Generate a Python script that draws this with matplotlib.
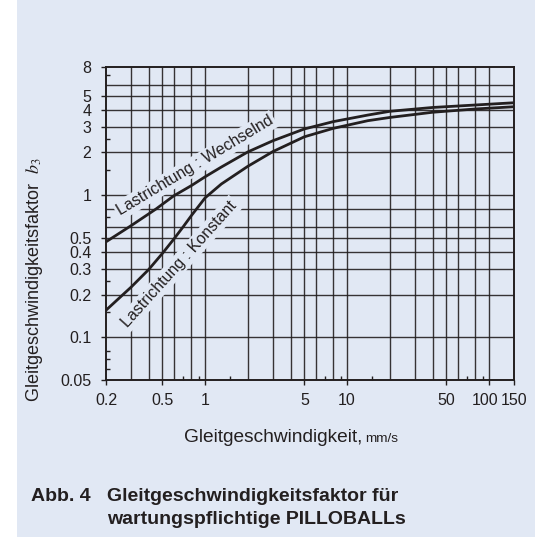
"""
Gleitgeschwindigkeitsfaktor b3 für wartungspflichtige PILLOBALLs.

Log-log chart of the sliding speed factor over the sliding speed,
for alternating and constant load direction.
"""

import matplotlib.pyplot as plt
from matplotlib.patches import Rectangle
from matplotlib.transforms import ScaledTranslation

plt.rcParams["font.family"] = ["Liberation Sans", "DejaVu Sans"]
plt.rcParams["mathtext.fontset"] = "stix"

PANEL = "#e1e8f4"
INK = "#231f20"

# speed in mm/s, factor b3
speed_wechselnd = [0.2, 0.3, 0.45, 0.6, 0.8, 1.0, 1.3, 2.0, 3.0, 5.0, 8.0, 14.0, 20.0, 40.0, 80.0, 150.0]
b3_wechselnd = [0.47, 0.61, 0.80, 0.99, 1.17, 1.35, 1.58, 2.02, 2.42, 2.93, 3.30, 3.67, 3.90, 4.15, 4.32, 4.48]

speed_konstant = [0.2, 0.3, 0.4, 0.5, 0.6, 0.7, 0.8, 1.0, 1.3, 2.0, 3.0, 5.0, 8.0, 14.0, 20.0, 40.0, 80.0, 150.0]
b3_konstant = [0.155, 0.225, 0.30, 0.39, 0.49, 0.60, 0.72, 0.96, 1.20, 1.60, 2.03, 2.58, 2.96, 3.35, 3.53, 3.84, 4.05, 4.20]

x_ticks = [0.2, 0.5, 1, 5, 10, 50, 100, 150]
x_tick_labels = ["0.2", "0.5", "1", "5", "10", "50", "100", "150"]
x_minor = [0.7, 0.9, 1.5, 7, 9, 15, 70, 90]
x_grid = [0.3, 0.4, 0.5, 0.6, 0.8, 1, 2, 3, 4, 5, 6, 8, 10, 20, 30, 40, 50, 60, 80, 100]

y_ticks = [0.05, 0.1, 0.2, 0.3, 0.4, 0.5, 1, 2, 3, 4, 5, 8]
y_tick_labels = ["0.05", "0.1", "0.2", "0.3", "0.4", "0.5", "1", "2", "3", "4", "5", "8"]
y_minor = [0.06, 0.07, 0.08, 0.15, 0.25, 0.7, 1.5, 2.5, 7]
y_grid = [0.1, 0.2, 0.3, 0.4, 0.5, 0.6, 0.8, 1, 2, 3, 4, 5, 6]


def main() -> None:
    fig = plt.figure(figsize=(5.49, 5.45), dpi=100, facecolor="white")
    fig.patches.append(
        Rectangle((17 / 549, 8 / 545), 518 / 549, 537 / 545,
                  transform=fig.transFigure, facecolor=PANEL,
                  edgecolor="none", zorder=-10)
    )

    ax = fig.add_axes([106 / 549, 1 - 380 / 545, 408 / 549, 313 / 545])
    ax.set_facecolor("none")
    ax.set_xscale("log")
    ax.set_yscale("log")
    ax.set_xlim(0.2, 150)
    ax.set_ylim(0.05, 8)

    for xv in x_grid:
        ax.axvline(xv, color=INK, lw=1.0, alpha=0.9, zorder=1)
    for yv in y_grid:
        ax.axhline(yv, color=INK, lw=1.0, alpha=0.9, zorder=1)

    ax.plot(speed_wechselnd, b3_wechselnd, color=INK, lw=2.0, zorder=4,
            solid_capstyle="butt")
    ax.plot(speed_konstant, b3_konstant, color=INK, lw=2.0, zorder=4,
            solid_capstyle="butt")

    box = dict(facecolor=PANEL, edgecolor="none", pad=1.5)
    ax.text(0.85, 1.62, "Lastrichtung : Wechselnd", rotation=31,
            rotation_mode="anchor", ha="center", va="center", fontsize=11.5,
            color=INK, bbox=box, zorder=3)
    ax.text(0.66, 0.33, "Lastrichtung : Konstant", rotation=48,
            rotation_mode="anchor", ha="center", va="center", fontsize=11.5,
            color=INK, bbox=box, zorder=3)

    ax.set_xticks(x_ticks)
    ax.set_xticklabels(x_tick_labels)
    ax.set_xticks(x_minor, minor=True)
    ax.set_yticks(y_ticks)
    ax.set_yticklabels(y_tick_labels)
    ax.set_yticks(y_minor, minor=True)
    ax.tick_params(which="major", direction="out", length=3.5, width=1,
                   color=INK, labelsize=11.5, labelcolor=INK)
    ax.tick_params(axis="x", which="major", pad=6)
    ax.tick_params(axis="y", which="major", pad=7)
    ax.tick_params(which="minor", direction="in", length=3, width=1,
                   color=INK, labelbottom=False, labelleft=False)

    # pull "100" a little left so it does not run into "150"
    for lab in ax.get_xticklabels():
        if lab.get_text() == "100":
            lab.set_transform(lab.get_transform()
                              + ScaledTranslation(-4 / 100, 0, fig.dpi_scale_trans))

    for spine in ax.spines.values():
        spine.set_color(INK)
        spine.set_linewidth(1.4)
        spine.set_zorder(5)

    fig.text(35 / 549, 1 - 280 / 545,
             r"Gleitgeschwindigkeitsfaktor  $b_3$", rotation=90,
             ha="center", va="center", fontsize=13, color=INK)
    fig.text(362 / 549, 1 - 442 / 545, "Gleitgeschwindigkeit,",
             ha="right", va="baseline", fontsize=13.8, color=INK)
    fig.text(365 / 549, 1 - 442 / 545, "mm/s",
             ha="left", va="baseline", fontsize=9.7, color=INK)

    cap = dict(ha="left", va="baseline", fontsize=14, color=INK,
               fontweight="bold")
    fig.text(31 / 549, 1 - 501 / 545, "Abb. 4", **cap)
    fig.text(107 / 549, 1 - 501 / 545, "Gleitgeschwindigkeitsfaktor für", **cap)
    fig.text(107 / 549, 1 - 524 / 545, "wartungspflichtige PILLOBALLs", **cap)

    fig.savefig("out.png", dpi=100)


if __name__ == "__main__":
    main()
